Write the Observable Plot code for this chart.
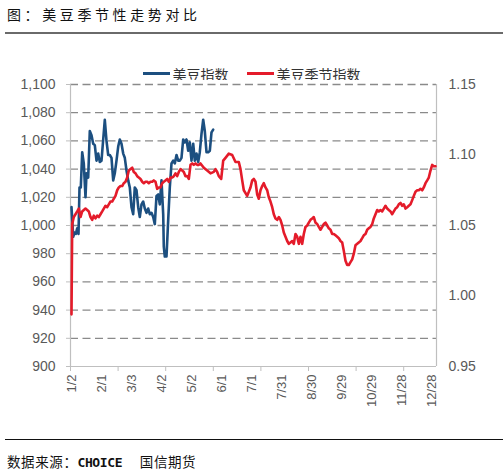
<!DOCTYPE html>
<html>
<head>
<meta charset="utf-8">
<script src="https://cdn.jsdelivr.net/npm/d3@7"></script>
<script src="https://cdn.jsdelivr.net/npm/@observablehq/plot@0.6"></script>
<style>
  html, body { margin: 0; padding: 0; background: #fff; }
  body { width: 503px; height: 473px; overflow: hidden; position: relative; font-family: "Noto Sans CJK SC", sans-serif; }
  .title { position: absolute; left: 7px; top: 4px; font-size: 14px; letter-spacing: 3.6px; color: #111; line-height: 20px; white-space: nowrap; }
  .rule-top { position: absolute; left: 5px; right: 0; top: 32px; height: 0; border-top: 2px solid #6a6a6a; }
  .legend { position: absolute; left: 0; width: 503px; top: 59px; text-align: center; font-size: 14px; color: #333; line-height: 20px; white-space: nowrap; }
  .legend .item { display: inline-flex; align-items: center; margin: 0 9px; }
  .legend .sw { display: inline-block; width: 27px; height: 3px; margin-right: 3px; }
  #chart { position: absolute; left: 0; top: 80px; }
  .rule-bottom { position: absolute; left: 5px; right: 0; top: 439px; height: 0; border-top: 1.6px solid #111; }
  .footer { position: absolute; left: 7px; top: 451px; font-size: 13.5px; color: #111; line-height: 20px; white-space: nowrap; letter-spacing: 0.6px; }
  .footer .mono { font-family: "DejaVu Sans Mono", monospace; font-size: 13px; letter-spacing: -0.4px; font-weight: bold; }
</style>
</head>
<body>
<div class="title">图：美豆季节性走势对比</div>
<div class="rule-top"></div>
<div class="legend" id="legend"></div>
<div id="chart"></div>
<div class="rule-bottom"></div>
<div class="footer">数据来源：<span class="mono">CHOICE</span>　 国信期货</div>
<script>
// ---- data ----
const seriesNames = ["美豆指数", "美豆季节指数"];
const seriesColors = ["#1c4f80", "#e41b2a"];

// 美豆指数 (left axis): day of year (0 = Jan 1) and value
const soyDays = [1,2.7,4,5.3,6.7,8,9,10.3,11.7,13.3,15,16,17.7,19.3,21,22.7,24.3,26,27.7,29.3,31,32.7,34.3,36,37.7,39.3,41,42.7,44.3,46,47.7,49.3,51,52.7,54.3,56,57.7,59.3,61,62.7,64.3,66,67.7,69.3,71,72.7,74.3,76,77.7,79.3,81,82.7,84.3,86,87.7,89.3,91,92.7,93.3,94.3,96,97.7,99.3,101,102.7,104.3,106,107.7,109.3,111,112.7,114.3,116,117.7,119.3,121,122.7,124.3,126,127.7,129.3,131,132.7,134.3,136,137.7,139.3,141,142.7];
const soyValues = [1013,992,995,994,998,994,1027,1027,1052,1044,1020,1037,1034,1067,1064,1058,1057,1046,1051,1045,1046,1061,1075,1060,1050,1050,1048,1032,1037,1046,1056,1061,1058,1051,1048,1039,1032,1027,1013,1008,1027,1025,1013,1006,1015,1017,1012,1009,1012,1008,1009,1006,1001,1021,1022,1015,1032,1008,985,978,978,1004,1027,1044,1046,1044,1050,1046,1046,1048,1061,1059,1061,1053,1059,1046,1058,1046,1051,1045,1052,1065,1075,1067,1052,1052,1053,1066,1068];

// 美豆季节指数 (right axis)
const seasonDays = [1,1.7,3.3,5,6.7,8.3,10,11.7,13.3,15,16.7,18.3,20,21.7,23.3,25,26.7,28.3,30,31.7,33.3,35,36.7,38.3,40,41.7,43.3,45,46.7,48.3,50,51.7,53.3,55,56.7,58.3,60,61.7,63.3,65,66.7,68.3,70,71.7,73.3,75,76.7,78.3,80,81.7,83.3,85,86.7,88.3,90,91.7,93.3,95,96.7,98.3,100,101.7,103.3,105,106.7,108.3,110,111.7,113.3,115,116.7,118.3,120,121.7,123.3,125,126.7,128.3,130,133.3,136.7,140,143.3,145,146.7,148.3,150.7,152.7,155,158.3,161.7,165,168.3,170,171.7,173.3,176.7,180,181.7,183.3,185,186.7,188.3,190,191.7,193.3,195,196.7,198.3,200,201.7,203.3,205,206.7,208.3,210,211.7,213.3,215,216.7,218.3,220,221.7,223.3,225,226.7,228.3,230,231.7,233.3,235,236.7,238.3,240,241.7,243.3,245,246.7,248.3,250,251.7,253.3,255,256.7,258.3,260,261.7,263.3,265,266.7,268.3,270,271.7,273.3,275,276.7,278.3,280,281.7,283.3,285,286.7,288.3,290,291.7,293.3,295,296.7,298.3,300,301.7,303.3,305,306.7,308.3,310,311.7,313.3,315,316.7,318.3,320,321.7,323.3,325,326.7,328.3,330,331.7,333.3,335,336.7,338.3,340,341.7,343.3,345,346.7,348.3,350,351.7,353.3,355,356.7,358.3,360,361.7,363.3,365];
const seasonValues = [0.987,1.051,1.056,1.058,1.060,1.062,1.056,1.060,1.061,1.062,1.061,1.060,1.056,1.054,1.057,1.055,1.057,1.056,1.058,1.060,1.062,1.064,1.063,1.065,1.067,1.067,1.069,1.071,1.075,1.077,1.078,1.078,1.080,1.081,1.084,1.089,1.090,1.091,1.088,1.087,1.085,1.084,1.083,1.081,1.080,1.081,1.081,1.080,1.081,1.081,1.082,1.081,1.076,1.077,1.077,1.080,1.081,1.082,1.083,1.081,1.084,1.084,1.085,1.087,1.085,1.088,1.090,1.089,1.088,1.085,1.085,1.083,1.093,1.094,1.093,1.094,1.093,1.093,1.094,1.091,1.089,1.087,1.088,1.090,1.088,1.085,1.083,1.096,1.098,1.101,1.100,1.095,1.095,1.090,1.082,1.075,1.071,1.077,1.082,1.083,1.081,1.072,1.069,1.075,1.078,1.080,1.077,1.075,1.070,1.067,1.063,1.058,1.055,1.054,1.056,1.054,1.050,1.045,1.042,1.039,1.037,1.038,1.039,1.037,1.044,1.042,1.037,1.042,1.037,1.044,1.049,1.050,1.052,1.054,1.055,1.056,1.052,1.051,1.049,1.047,1.049,1.051,1.052,1.050,1.048,1.047,1.044,1.044,1.043,1.042,1.041,1.039,1.038,1.032,1.025,1.022,1.022,1.024,1.026,1.030,1.036,1.037,1.038,1.039,1.041,1.043,1.044,1.047,1.048,1.049,1.051,1.055,1.058,1.061,1.060,1.061,1.060,1.062,1.064,1.062,1.061,1.060,1.058,1.060,1.062,1.063,1.065,1.066,1.064,1.065,1.062,1.063,1.064,1.065,1.068,1.071,1.074,1.075,1.075,1.076,1.075,1.077,1.080,1.082,1.084,1.089,1.093,1.092,1.092];

// axis tick labels
const xTickLabels = ["1/2","2/1","3/3","4/2","5/2","6/1","7/1","7/31","8/30","9/29","10/29","11/28","12/28"];
const leftTicks = [900,920,940,960,980,1000,1020,1040,1060,1080,1100];
const rightTicks = [0.95,1.00,1.05,1.10,1.15];

// ---- scales helpers ----
const leftMin = 900, leftMax = 1100, rightMin = 0.95, rightMax = 1.15;
const toLeft = v => leftMin + (v - rightMin) / (rightMax - rightMin) * (leftMax - leftMin);
const parse = d3.timeParse("%Y/%m/%d");
const dayOf = s => { const d = parse("2023/" + s); return d3.timeDay.count(d3.timeYear(d), d); };
const labelDays = xTickLabels.map(dayOf);
const labelOf = new Map(labelDays.map((d, i) => [d, xTickLabels[i]]));
const tickMarkStep = 47.6;
const tickMarks = d3.range(0, 366, tickMarkStep);

// ---- legend ----
const legend = document.getElementById("legend");
seriesNames.forEach((n, i) => {
  const it = document.createElement("span");
  it.className = "item";
  it.innerHTML = `<span class="sw" style="background:${seriesColors[i]}"></span>${n}`;
  legend.appendChild(it);
});

// ---- chart ----
const axisColor = "#bfbfbf";
const textColor = "#595959";
const chart = Plot.plot({
  width: 503,
  height: 330,
  marginTop: 4,
  marginBottom: 44,
  marginLeft: 70,
  marginRight: 67,
  style: { fontFamily: "'Liberation Sans', Arial, sans-serif", background: "white", overflow: "visible" },
  x: { domain: [0, 366], axis: null },
  y: { domain: [leftMin, leftMax], axis: null },
  marks: [
    Plot.gridY(leftTicks.filter(t => t > leftMin), { stroke: "#8a8a8a", strokeOpacity: 1, strokeWidth: 1.3, strokeDasharray: "8,4.5" }),
    Plot.ruleX([0, 366], { stroke: axisColor, strokeWidth: 1.2 }),
    Plot.ruleY([leftMin], { stroke: axisColor, strokeWidth: 1.2 }),
    Plot.axisY(leftTicks, { anchor: "left", tickSize: 4, tickPadding: 11, tickFormat: d3.format(","), fontSize: 14, fill: textColor, stroke: axisColor }),
    Plot.axisY(rightTicks.map(toLeft), { anchor: "right", tickSize: 0, tickPadding: 12, tickFormat: v => d3.format(".2f")(rightMin + (v - leftMin) / (leftMax - leftMin) * (rightMax - rightMin)), fontSize: 14, fill: textColor }),
    Plot.axisX(tickMarks, { anchor: "bottom", tickSize: 5, tickFormat: () => "", stroke: axisColor }),
    Plot.axisX(labelDays, { anchor: "bottom", tickSize: 0, tickPadding: 8, tickRotate: -90, tickFormat: d => labelOf.get(d), fontSize: 13, fill: textColor }),
    Plot.line(soyValues, { x: soyDays, y: soyValues, stroke: seriesColors[0], strokeWidth: 2.6, curve: "linear" }),
    Plot.line(seasonValues, { x: seasonDays, y: seasonValues.map(toLeft), stroke: seriesColors[1], strokeWidth: 2.6, curve: "linear" })
  ]
});
document.getElementById("chart").appendChild(chart);
</script>
</body>
</html>
